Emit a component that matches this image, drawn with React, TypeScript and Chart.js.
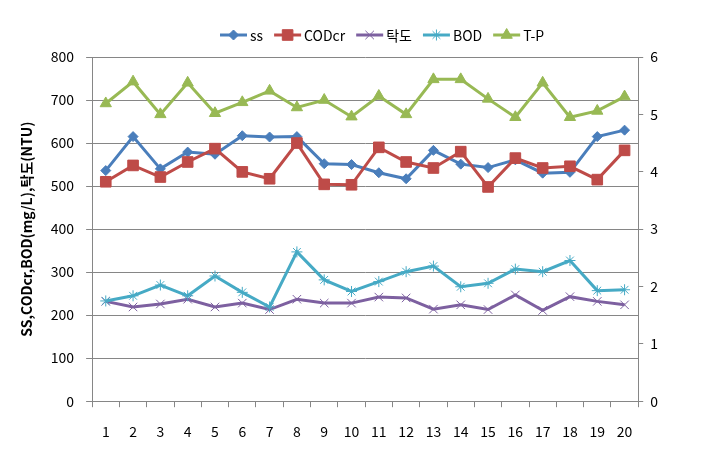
import React, { useEffect, useRef } from 'react';
import { Chart, registerables } from 'chart.js';
import { drawPoint } from 'chart.js/helpers';

Chart.register(...registerables);

const categories = ['1', '2', '3', '4', '5', '6', '7', '8', '9', '10', '11', '12', '13', '14', '15', '16', '17', '18', '19', '20'];
const ssValues = [536, 615, 540, 579, 574, 617, 614, 615, 552, 550, 531, 517, 583, 551, 543, 561, 530, 532, 615, 630];
const codValues = [510, 548, 521, 556, 587, 533, 517, 600, 504, 503, 590, 556, 542, 580, 498, 565, 542, 546, 515, 583];
const turbidityValues = [232, 219, 226, 237, 219, 228, 213, 237, 228, 228, 242, 240, 214, 224, 213, 247, 211, 243, 232, 224];
const bodValues = [233, 245, 270, 245, 291, 253, 219, 347, 282, 255, 278, 301, 314, 266, 274, 307, 301, 327, 257, 259];
const tpValues = [5.19, 5.57, 5.0, 5.55, 5.02, 5.21, 5.41, 5.12, 5.25, 4.96, 5.32, 5.0, 5.61, 5.61, 5.27, 4.95, 5.55, 4.95, 5.06, 5.31];

const leftMax = 800;
const leftStep = 100;
const rightMax = 6;
const rightStep = 1;

const FONT = "'Noto Sans CJK KR', 'Noto Sans', sans-serif";
const GRID = '#868686';

type MarkerSpec = { style: string; radius: number; borderWidth: number; color: string };

const LEGEND_X = 220;
const LEGEND_Y = 35;
const LEGEND_LINE = 27;
const LEGEND_TEXT_GAP = 3;
const LEGEND_ITEM_GAP = 11;

function makeLegendPlugin(markers: MarkerSpec[]) {
  return {
    id: 'excelLegend',
    afterDraw(chart: any) {
      const ctx = chart.ctx as CanvasRenderingContext2D;
      ctx.save();
      ctx.font = `14px ${FONT}`;
      ctx.textBaseline = 'middle';
      ctx.textAlign = 'left';
      let x = LEGEND_X;
      chart.data.datasets.forEach((ds: any, i: number) => {
        const m = markers[i];
        ctx.strokeStyle = m.color;
        ctx.lineWidth = 3;
        ctx.beginPath();
        ctx.moveTo(x, LEGEND_Y);
        ctx.lineTo(x + LEGEND_LINE, LEGEND_Y);
        ctx.stroke();
        ctx.fillStyle = m.color;
        ctx.lineWidth = m.borderWidth;
        drawPoint(ctx, { pointStyle: m.style as any, rotation: 0, radius: m.radius, borderWidth: m.borderWidth }, x + LEGEND_LINE / 2, LEGEND_Y);
        x += LEGEND_LINE + LEGEND_TEXT_GAP;
        ctx.fillStyle = '#000';
        ctx.fillText(ds.label, x, LEGEND_Y + 1);
        x += ctx.measureText(ds.label).width + LEGEND_ITEM_GAP;
      });
      ctx.restore();
    },
  };
}

export default function App() {
  const ref = useRef<HTMLCanvasElement | null>(null);

  useEffect(() => {
    document.body.style.margin = '0';
    const markers: MarkerSpec[] = [
      { style: 'rectRot', radius: 5, borderWidth: 1, color: '#4A7EBB' },
      { style: 'rect', radius: 7.5, borderWidth: 1, color: '#BE4B48' },
      { style: 'crossRot', radius: 6, borderWidth: 1, color: '#7D60A0' },
      { style: 'star', radius: 5.5, borderWidth: 1, color: '#46AAC5' },
      { style: 'triangle', radius: 6.5, borderWidth: 1, color: '#98B954' },
    ];
    const series = [
      { label: 'ss', data: ssValues, axis: 'y' },
      { label: 'CODcr', data: codValues, axis: 'y' },
      { label: '탁도', data: turbidityValues, axis: 'y' },
      { label: 'BOD', data: bodValues, axis: 'y' },
      { label: 'T-P', data: tpValues, axis: 'y1' },
    ];
    const chart = new Chart(ref.current as HTMLCanvasElement, {
      type: 'line',
      data: {
        labels: categories,
        datasets: series.map((s, i) => ({
          label: s.label,
          data: s.data,
          yAxisID: s.axis,
          borderColor: markers[i].color,
          backgroundColor: markers[i].color,
          borderWidth: 3,
          pointStyle: markers[i].style as any,
          pointRadius: markers[i].radius,
          pointBorderWidth: markers[i].borderWidth,
          pointBorderColor: markers[i].color,
          pointBackgroundColor: markers[i].color,
          tension: 0,
          order: 5 - i,
        })),
      },
      options: {
        animation: false,
        responsive: true,
        maintainAspectRatio: false,
        layout: { padding: { left: 18, right: 43, top: 57, bottom: -4 } },
        plugins: {
          tooltip: { enabled: false },
          legend: { display: false },
        },
        scales: {
          x: {
            type: 'category',
            offset: true,
            grid: { offset: true, drawOnChartArea: false, tickLength: 6, color: GRID },
            border: { color: GRID },
            ticks: { color: '#000', padding: 16, font: { family: FONT, size: 14 }, maxRotation: 0, autoSkip: false },
          },
          y: {
            position: 'left',
            min: 0,
            max: leftMax,
            ticks: { stepSize: leftStep, color: '#000', padding: 12, font: { family: FONT, size: 14 } },
            grid: { color: GRID, tickLength: 6 },
            border: { color: GRID },
            title: {
              display: true,
              text: 'SS,CODcr,BOD(mg/L),탁도(NTU)',
              color: '#000',
              font: { family: FONT, size: 14, weight: 'bold' },
              padding: { top: 0, bottom: 4 },
            },
          },
          y1: {
            position: 'right',
            min: 0,
            max: rightMax,
            ticks: { stepSize: rightStep, color: '#000', padding: 7, font: { family: FONT, size: 14 } },
            grid: { drawOnChartArea: false, color: GRID, tickLength: 5 },
            border: { color: GRID },
          },
        },
      },
      plugins: [makeLegendPlugin(markers)],
    });
    return () => chart.destroy();
  }, []);

  return (
    <div style={{ position: 'relative', width: 708, height: 452 }}>
      <canvas ref={ref} />
    </div>
  );
}
